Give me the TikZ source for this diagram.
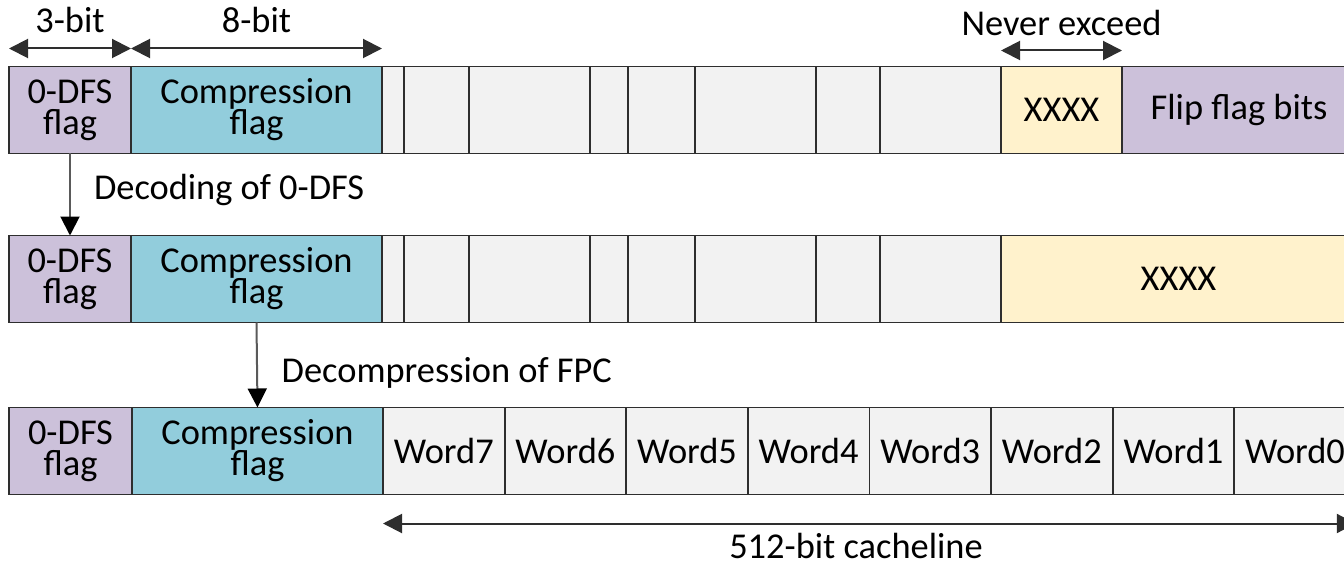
\documentclass[tikz,border=0pt]{standalone}
\usepackage{fontspec}
\setmainfont{Carlito}
\usetikzlibrary{arrows.meta}

\definecolor{dfscol}{HTML}{CCC1DA}
\definecolor{compcol}{HTML}{92CDDC}
\definecolor{datacol}{HTML}{F2F2F2}
\definecolor{xxxcol}{HTML}{FFF2CC}
\definecolor{edgecol}{HTML}{2E2E2E}
\definecolor{stemcol}{HTML}{5A5A5A}
\lineskiplimit=-20pt

\tikzset{
  cell/.style={draw=edgecol, line width=0.9pt, minimum height=43.5pt, inner sep=0pt,
    outer sep=0pt, anchor=west, align=center, font=\fontsize{18.2}{15.5}\selectfont},
  dfsbox/.style={cell, fill=dfscol, minimum width=61pt},
  compbox/.style={cell, fill=compcol, minimum width=125.5pt},
  databox/.style={cell, fill=datacol},
  xbox/.style={cell, fill=xxxcol},
  flipbox/.style={cell, fill=dfscol},
  lbl/.style={inner sep=0pt, font=\fontsize{18.2}{15.5}\selectfont},
  widtharrow/.style={{Triangle[length=9.5pt,width=9.5pt]}-{Triangle[length=9.5pt,width=9.5pt]},
    line width=1pt, draw=edgecol},
  flowarrow/.style={-{Triangle[length=9.5pt,width=9.5pt,color=black]}, line width=1pt, draw=stemcol},
}

\begin{document}
\begin{tikzpicture}[x=0.5pt,y=-0.5pt]
\useasboundingbox (0,0) rectangle (1344,567);
\clip (0,0) rectangle (1344,567);

% encoded line
\node[dfsbox] (dfs1) at (9,110) {0-DFS\\flag};
\node[compbox] (comp1) at (131,110) {Compression\\flag};
\foreach \x/\w [count=\i] in {382/11,404/32.5,469/60.5,590/19,628/33.5,695/60.5,816/32,880/60.5}
  \node[databox, minimum width=\w pt] (a\i) at (\x,110) {};
\node[xbox, minimum width=60.5pt] (x1) at (1001,110) {XXXX};
\node[flipbox, minimum width=117pt] (flip1) at (1122,110) {Flip flag bits};

% after 0-DFS decoding
\node[dfsbox] (dfs2) at (9,279) {0-DFS\\flag};
\node[compbox] (comp2) at (131,279) {Compression\\flag};
\foreach \x/\w [count=\i] in {382/11,404/32.5,469/60.5,590/19,628/33.5,695/60.5,816/32,880/60.5}
  \node[databox, minimum width=\w pt] (b\i) at (\x,279) {};
\node[xbox, minimum width=177.5pt] (x2) at (1001,279) {XXXX};

% original cacheline
\node[dfsbox, minimum width=61.5pt] (dfs3) at (9,451) {0-DFS\\flag};
\node[compbox] (comp3) at (132,451) {Compression\\flag};
\foreach \n [count=\i from 0] in {7,...,0}
  \node[databox, minimum width=60.8pt] (w\n) at ({383+121.6*\i},451) {Word\n};

% field widths
\draw[widtharrow] ([yshift=9pt]dfs1.north west) -- ([yshift=9pt]dfs1.north east)
  node[lbl, midway, above=7.5pt] {3-bit};
\draw[widtharrow] ([yshift=9pt]comp1.north west) -- ([yshift=9pt]comp1.north east)
  node[lbl, midway, above=7.5pt] {8-bit};
\draw[widtharrow] ([yshift=8pt]x1.north west) -- ([yshift=8pt]x1.north east)
  node[lbl, midway, above=7pt] {Never exceed};

% decoding steps
\draw[flowarrow] (dfs1.south) -- (dfs2.north)
  node[lbl, pos=0.56, anchor=base west, xshift=11.5pt] {Decoding of 0-DFS};
\draw[flowarrow] (comp2.south) -- (comp3.north)
  node[lbl, pos=0.70, anchor=base west, xshift=11.75pt] {Decompression of FPC};

\draw[widtharrow] ([yshift=-14.5pt]w7.south west) -- ([yshift=-14.5pt]w0.south east);
\node[lbl, anchor=base] (cachelbl) at (856,558) {512-bit cacheline};
\end{tikzpicture}
\end{document}
